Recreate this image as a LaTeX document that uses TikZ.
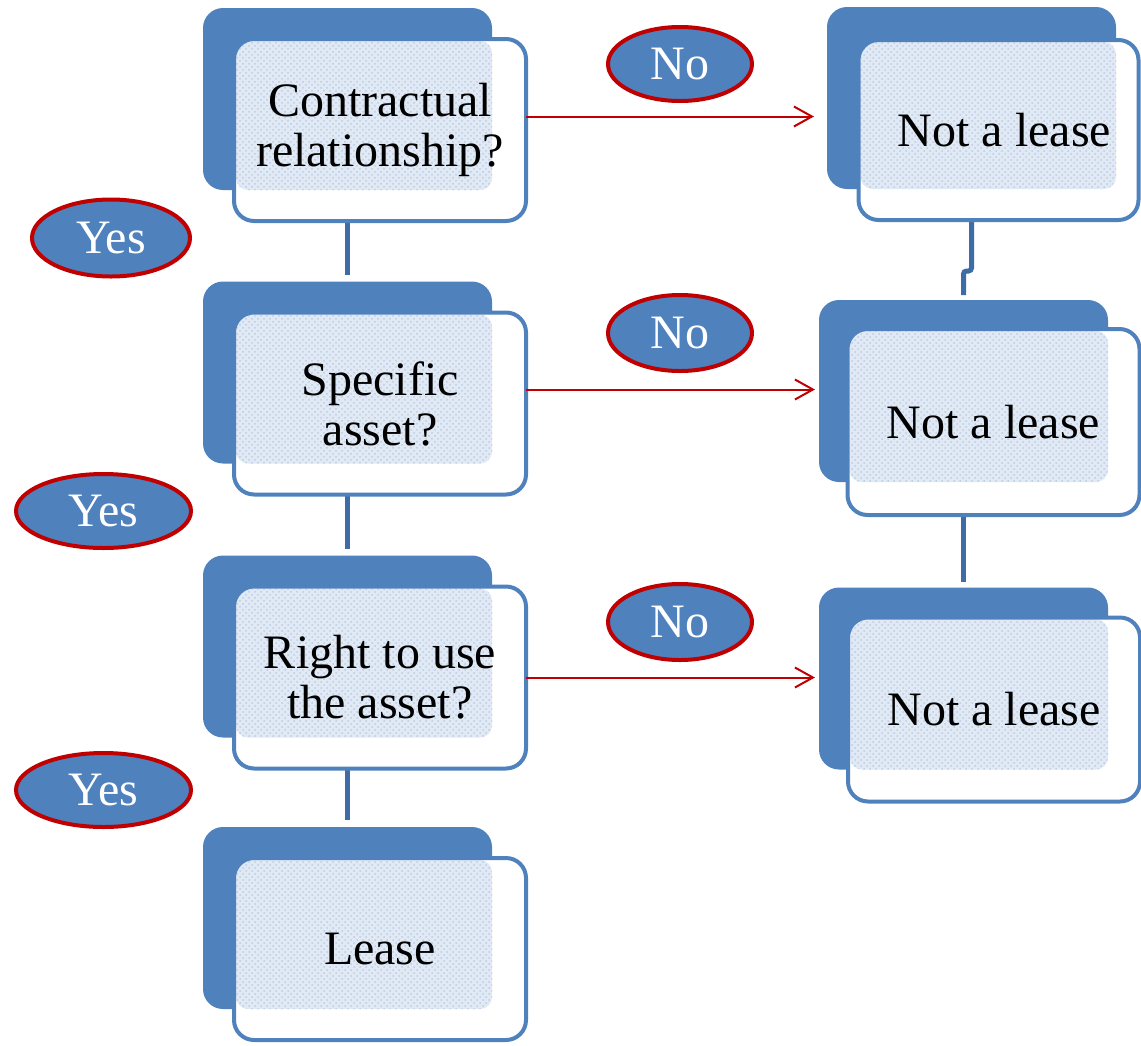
\documentclass[tikz,border=0pt]{standalone}
\usepackage{fontspec}
\setmainfont{Liberation Serif}
\usetikzlibrary{shapes.geometric}
\usetikzlibrary{arrows.meta}
\usetikzlibrary{patterns}
\usetikzlibrary{calc}

\definecolor{boxblue}{HTML}{4F81BD}
\definecolor{linkblue}{HTML}{3E6CA6}
\definecolor{darkred}{HTML}{C00000}

\tikzset{
  backbox/.style={rectangle, rounded corners=10pt, fill=boxblue, minimum width=144.5pt, minimum height=91pt, inner sep=0pt, outer sep=0pt},
  dotfill/.style={rounded corners=6pt, fill=boxblue!17, postaction={pattern=crosshatch dots, pattern color=boxblue!40}},
  frontbox/.style={rectangle, rounded corners=10pt, draw=boxblue, line width=2pt, fill=white, minimum width=146pt, minimum height=91pt, align=center, font=\fontsize{24}{25}\selectfont, outer sep=0pt,
    path picture={\fill[dotfill] ([shift={(1pt,-1pt)}]path picture bounding box.north west) rectangle (#1.south east);}},
  answer/.style={ellipse, fill=boxblue, draw=darkred, line width=2pt, text=white, font=\fontsize{24}{24}\selectfont, inner sep=0pt},
  link/.style={linkblue, line width=2.5pt},
  noarrow/.style={darkred, line width=1pt, -{Straight Barb[length=9pt,width=10pt]}}
}

\begin{document}
\begin{tikzpicture}[x=0.5pt, y=-0.5pt]
        \useasboundingbox (0,0) rectangle (1141,1045);

        % Back panels
        \foreach \name/\x/\y in {q1b/347.5/99, q2b/347.5/372.5, q3b/347.5/646.5, q4b/347.5/918,
                                 r1b/971.5/98, r2b/963.5/391, r3b/963.5/678.5} {
            \node[backbox] (\name) at (\x,\y) {};
        }

        % Yes links
        \draw[link, shorten >=3.5pt] (q1b.south) -- (q2b.north);
        \draw[link, shorten >=3.5pt] (q2b.south) -- (q3b.north);
        \draw[link, shorten >=3.5pt] (q3b.south) -- (q4b.north);

        % Links between the outcomes
        \draw[link, rounded corners=1.5pt, shorten >=2.5pt] (r1b.south) -- ++(0,82) -| (r2b.north);
        \draw[link, shorten >=3pt] (r2b.south) -- (r3b.north);

        % Questions
        \node[frontbox=q1b] (q1) at (380,130) {Contractual\\relationship?};
        \node[frontbox=q2b] (q2) at (380,403.5) {Specific\\asset?};
        \node[frontbox=q3b] (q3) at (380,677.5) {Right to use\\the asset?};
        \node[frontbox=q4b] (q4) at (380,949) {Lease};

        % Outcomes
        \node[frontbox=r1b, minimum width=140pt, minimum height=90pt] (r1) at (998.5,130) {\hspace*{6pt}Not a lease};
        \node[frontbox=r2b, minimum height=93pt] (r2) at (993.5,422) {Not a lease};
        \node[frontbox=r3b, minimum height=92pt] (r3) at (994,709.5) {Not a lease};

        % No arrows
        \coordinate (n1) at ([yshift=6.75pt]q1.east);
        \draw[noarrow, shorten >=6.5pt] (n1) -- (n1 -| r1b.west);
        \coordinate (n2) at ([yshift=7pt]q2.east);
        \draw[noarrow, shorten >=2pt] (n2) -- (n2 -| r2b.west);
        \coordinate (n3) at (q3.east);
        \draw[noarrow, shorten >=2pt] (n3) -- (n3 -| r3b.west);

        % Answer labels
        \node[answer, minimum width=79pt, minimum height=38.5pt] (yes1) at (111,238) {Yes};
        \node[answer, minimum width=87.5pt, minimum height=37pt] (yes2) at (103.5,511) {Yes};
        \node[answer, minimum width=87.5pt, minimum height=37pt] (yes3) at (103.5,790) {Yes};
        \node[answer, minimum width=72pt, minimum height=37pt] (no1) at (680,64) {No};
        \node[answer, minimum width=72pt, minimum height=38pt] (no2) at (680,333) {No};
        \node[answer, minimum width=72pt, minimum height=38pt] (no3) at (680,622) {No};

    \end{tikzpicture}
\end{document}
